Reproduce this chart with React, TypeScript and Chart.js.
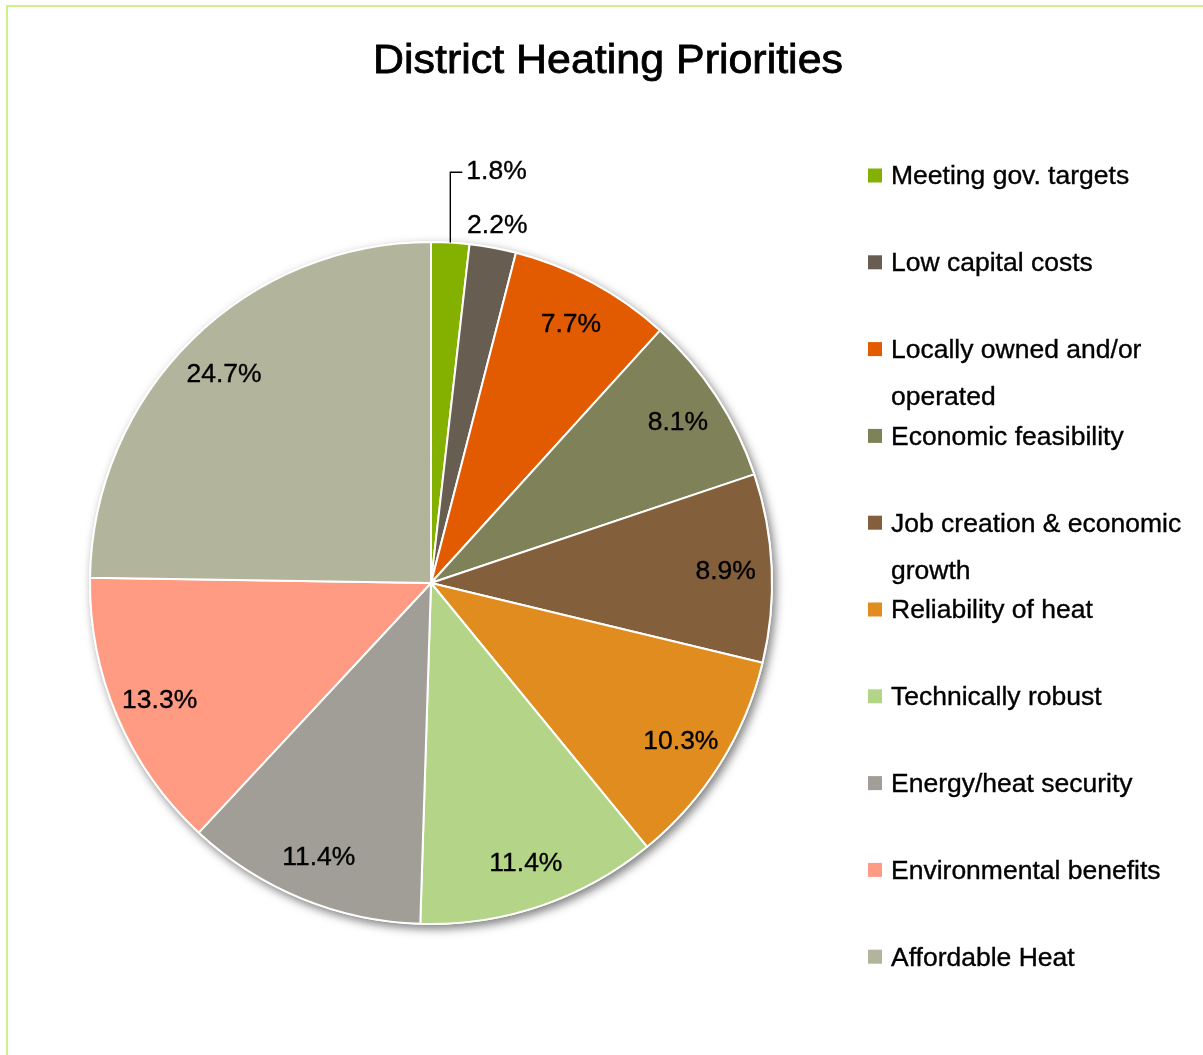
import React, { useEffect, useRef } from "react";
import { Chart, registerables } from "chart.js";

Chart.register(...registerables);

const chartTitle = "District Heating Priorities";
const categories = [
  "Meeting gov. targets",
  "Low capital costs",
  "Locally owned and/or operated",
  "Economic feasibility",
  "Job creation & economic growth",
  "Reliability of heat",
  "Technically robust",
  "Energy/heat security",
  "Environmental benefits",
  "Affordable Heat",
];
const shares = [1.8, 2.2, 7.7, 8.1, 8.9, 10.3, 11.4, 11.4, 13.3, 24.7];
const sliceColors = [
  "#84b100",
  "#675d50",
  "#e35b00",
  "#7f8159",
  "#845f3b",
  "#e18c1f",
  "#b4d587",
  "#a19e97",
  "#ff9b83",
  "#b2b59b",
];

const FONT = '"Liberation Sans", Arial, Helvetica, sans-serif';
const SX = 1.06; // horizontal text stretch seen in the reference

function fillStretched(
  ctx: CanvasRenderingContext2D,
  text: string,
  x: number,
  baseline: number,
  size: number,
  align: CanvasTextAlign,
  weight = 0.35
) {
  ctx.save();
  ctx.font = `${size}px ${FONT}`;
  ctx.fillStyle = "#000";
  ctx.strokeStyle = "#000";
  ctx.lineWidth = weight;
  ctx.textAlign = align;
  ctx.textBaseline = "alphabetic";
  ctx.translate(x, baseline);
  ctx.scale(SX, 1);
  ctx.fillText(text, 0, 0);
  if (weight > 0) ctx.strokeText(text, 0, 0);
  ctx.restore();
}

function measure(ctx: CanvasRenderingContext2D, text: string, size: number) {
  ctx.save();
  ctx.font = `${size}px ${FONT}`;
  const w = ctx.measureText(text).width * SX;
  ctx.restore();
  return w;
}

function wrapWords(ctx: CanvasRenderingContext2D, text: string, size: number, maxW: number) {
  const words = text.split(" ");
  const lines: string[] = [];
  let cur = "";
  for (const w of words) {
    const test = cur ? cur + " " + w : w;
    if (cur && measure(ctx, test, size) > maxW) {
      lines.push(cur);
      cur = w;
    } else {
      cur = test;
    }
  }
  if (cur) lines.push(cur);
  return lines;
}

const shadowPlugin = {
  id: "pieShadow",
  beforeDatasetsDraw(chart: any) {
    const meta = chart.getDatasetMeta(0);
    if (!meta.data.length) return;
    const { x, y, outerRadius } = meta.data[0].getProps(["x", "y", "outerRadius"], true);
    const ctx = chart.ctx as CanvasRenderingContext2D;
    ctx.save();
    ctx.shadowColor = "rgba(0,0,0,0.5)";
    ctx.shadowBlur = 10;
    ctx.shadowOffsetX = 3;
    ctx.shadowOffsetY = 4;
    ctx.beginPath();
    ctx.arc(x, y, outerRadius + 1, 0, Math.PI * 2);
    ctx.fillStyle = "#fff";
    ctx.fill();
    ctx.restore();
  },
};

const textPlugin = {
  id: "pieText",
  afterDraw(chart: any) {
    const ctx = chart.ctx as CanvasRenderingContext2D;
    const meta = chart.getDatasetMeta(0);
    const values: number[] = chart.data.datasets[0].data;
    const labels: string[] = chart.data.labels;
    const colors: string[] = chart.data.datasets[0].backgroundColor;

    // Title
    fillStretched(ctx, chartTitle, 608, 73, 40.5, "center", 0.8);

    // Data labels
    const size = 25;
    const half = size * 0.358;
    const placed: { x0: number; x1: number; y0: number; y1: number; cy: number }[] = [];
    const small: number[] = [];
    meta.data.forEach((arc: any, i: number) => {
      const { x, y, startAngle, endAngle, outerRadius } = arc.getProps(
        ["x", "y", "startAngle", "endAngle", "outerRadius"],
        true
      );
      const mid = (startAngle + endAngle) / 2;
      const text = values[i].toFixed(1) + "%";
      if (values[i] >= 5) {
        const r = outerRadius * 0.865;
        const cx = x + Math.cos(mid) * r;
        const cy = y + Math.sin(mid) * r;
        fillStretched(ctx, text, cx, cy + half, size, "center");
      } else {
        small.push(i);
      }
    });
    // outside labels, later slices first
    small.sort((a, b) => b - a);
    for (const i of small) {
      const arc = meta.data[i];
      const { x, y, startAngle, endAngle, outerRadius } = arc.getProps(
        ["x", "y", "startAngle", "endAngle", "outerRadius"],
        true
      );
      const mid = (startAngle + endAngle) / 2;
      const text = values[i].toFixed(1) + "%";
      const w = measure(ctx, text, size);
      const r = outerRadius + 24;
      const cx = x + Math.cos(mid) * r;
      let cy = y + Math.sin(mid) * r;
      const box = { x0: cx - w / 2, x1: cx + w / 2, y0: cy - size / 2, y1: cy + size / 2, cy };
      const hit = placed.find(
        (p) => box.x0 < p.x1 && box.x1 > p.x0 && box.y0 < p.y1 && box.y1 > p.y0
      );
      if (hit) {
        const ax = x + Math.cos(mid) * outerRadius;
        const ay = y + Math.sin(mid) * outerRadius;
        cy = hit.cy - size * 2.15;
        const lx = ax + 12;
        ctx.save();
        ctx.strokeStyle = "#000";
        ctx.lineWidth = 1.4;
        ctx.beginPath();
        ctx.moveTo(ax, ay);
        ctx.lineTo(ax, cy + 2);
        ctx.lineTo(lx, cy + 2);
        ctx.stroke();
        ctx.restore();
        fillStretched(ctx, text, lx + 4, cy + half, size, "left");
        placed.push({ x0: lx, x1: lx + w, y0: cy - size / 2, y1: cy + size / 2, cy });
      } else {
        fillStretched(ctx, text, cx, cy + half, size, "center");
        placed.push(box);
      }
    }

    // Legend
    const lsize = 25;
    const top = 175.5;
    const step = 86.8;
    const boxX = 868;
    const textX = 891;
    const maxW = 1196 - textX;
    labels.forEach((lab, i) => {
      const cy = top + step * i;
      ctx.save();
      ctx.fillStyle = colors[i];
      ctx.fillRect(boxX, cy - 7, 14, 14);
      ctx.restore();
      const lines = wrapWords(ctx, lab, lsize, maxW);
      lines.forEach((ln, k) => {
        fillStretched(ctx, ln, textX, cy + lsize * 0.358 + k * 47, lsize, "left");
      });
    });
  },
};

export default function App() {
  const canvasRef = useRef<HTMLCanvasElement | null>(null);

  useEffect(() => {
    if (!canvasRef.current) return;
    const chart = new Chart(canvasRef.current, {
      type: "pie",
      data: {
        labels: categories,
        datasets: [
          {
            data: shares,
            backgroundColor: sliceColors,
            borderColor: "#ffffff",
            borderWidth: 2,
          },
        ],
      },
      options: {
        animation: false,
        responsive: true,
        maintainAspectRatio: false,
        events: [],
        layout: { padding: { left: 89, top: 241, right: 430, bottom: 130 } },
        plugins: {
          legend: { display: false },
          title: { display: false },
          tooltip: { enabled: false },
        },
      },
      plugins: [shadowPlugin, textPlugin],
    });
    return () => chart.destroy();
  }, []);

  return (
    <div
      style={{
        position: "absolute",
        left: 0,
        top: 0,
        width: 1203,
        height: 1055,
        overflow: "hidden",
        background: "#fff",
      }}
    >
      <div
        style={{
          position: "absolute",
          left: 6,
          top: 5,
          width: 2000,
          height: 2000,
          borderLeft: "2px solid #ccf08c",
          borderTop: "2px solid #ccf08c",
        }}
      />
      <div style={{ position: "absolute", left: 0, top: 0, width: 1203, height: 1055 }}>
        <canvas ref={canvasRef} />
      </div>
    </div>
  );
}
